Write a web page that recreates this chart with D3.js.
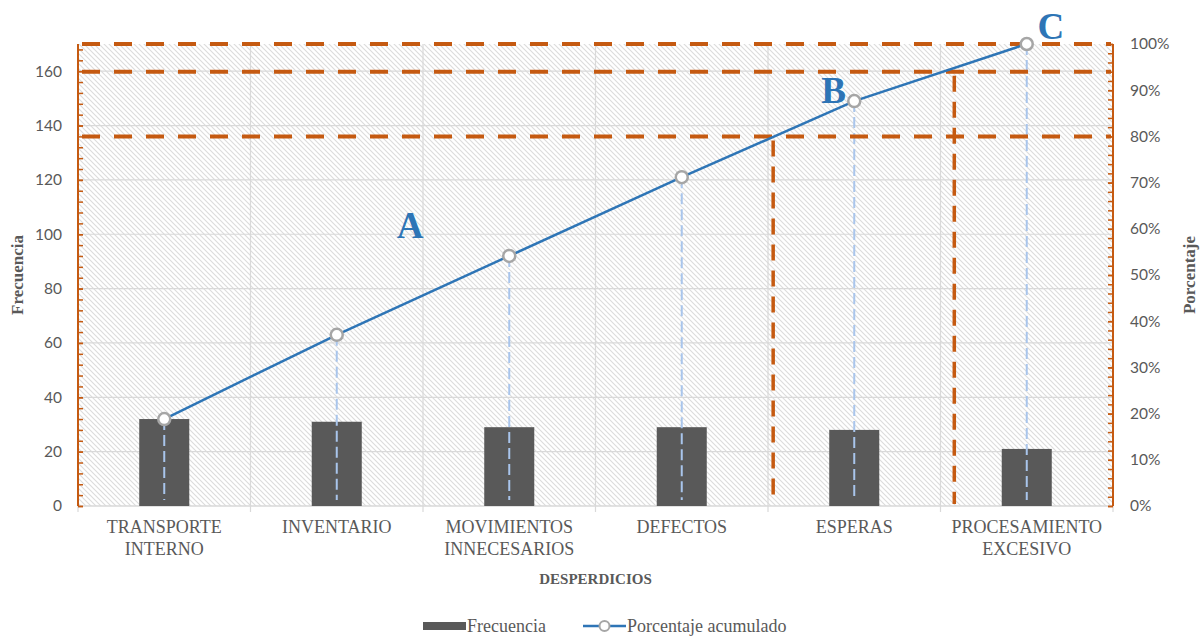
<!DOCTYPE html>
<html>
<head>
<meta charset="utf-8">
<script src="https://cdn.jsdelivr.net/npm/d3@7"></script>
<style>
  html, body { margin: 0; padding: 0; background: #ffffff; }
  svg { display: block; }
</style>
</head>
<body>
<svg id="chart" width="1201" height="636"></svg>
<script>
// Pareto de desperdicios
const categories = [
  ["TRANSPORTE", "INTERNO"],
  ["INVENTARIO"],
  ["MOVIMIENTOS", "INNECESARIOS"],
  ["DEFECTOS"],
  ["ESPERAS"],
  ["PROCESAMIENTO", "EXCESIVO"]
];
const frecuencia = [32, 31, 29, 29, 28, 21];
const leftTicks = [0, 20, 40, 60, 80, 100, 120, 140, 160];
const rightTicks = [0, 0.1, 0.2, 0.3, 0.4, 0.5, 0.6, 0.7, 0.8, 0.9, 1.0];
// Cortes de zona (porcentaje) y posición de los cortes verticales (en unidades de categoría)
const cutLevels = [0.80, 0.94, 1.00];
const cutPositions = [4.03, 5.08];
// Etiquetas de zona: índice de categoría (fraccional) y porcentaje
const zoneLabels = [
  { text: "A", at: 1.925, pct: 0.58 },
  { text: "B", at: 4.38, pct: 0.872 },
  { text: "C", at: 5.64, pct: 1.011 }
];

const total = d3.sum(frecuencia);
const acumulado = Array.from(d3.cumsum(frecuencia), v => v / total);

const svg = d3.select("#chart");
const pLeft = 78, pRight = 1113, pTop = 44, pBottom = 506;
const names = categories.map(c => c.join(" "));

const x = d3.scaleBand().domain(names).range([pLeft, pRight]).padding(0);
const yL = d3.scaleLinear().domain([0, 170]).range([pBottom, pTop]);
const yR = d3.scaleLinear().domain([0, 1]).range([pBottom, pTop]);
const xAt = u => pLeft + u * x.step();
const cx = i => x(names[i]) + x.bandwidth() / 2;

const orange = "#C55A11";
const blue = "#2E75B6";
const grey = "#595959";

// Hatched plot background
const defs = svg.append("defs");
const pat = defs.append("pattern")
  .attr("id", "hatch").attr("patternUnits", "userSpaceOnUse")
  .attr("width", 5).attr("height", 5);
pat.append("rect").attr("width", 5).attr("height", 5).attr("fill", "#ffffff");
pat.append("path")
  .attr("d", "M-1,-1 L6,6 M-1,4 L1,6 M4,-1 L6,1")
  .attr("stroke", "#dcdcdc").attr("stroke-width", 1.1);

svg.append("rect")
  .attr("x", pLeft).attr("y", pTop)
  .attr("width", pRight - pLeft).attr("height", pBottom - pTop)
  .attr("fill", "url(#hatch)");

// Gridlines
svg.append("g").selectAll("line").data(leftTicks.filter(d => d > 0)).join("line")
  .attr("x1", pLeft).attr("x2", pRight)
  .attr("y1", d => yL(d)).attr("y2", d => yL(d))
  .attr("stroke", "#d9d9d9").attr("stroke-width", 1.2);
const bounds = d3.range(1, names.length);
svg.append("g").selectAll("line").data(bounds).join("line")
  .attr("x1", d => xAt(d)).attr("x2", d => xAt(d))
  .attr("y1", pTop).attr("y2", pBottom + 6)
  .attr("stroke", "#d9d9d9").attr("stroke-width", 1.2);

// Category axis baseline
svg.append("line")
  .attr("x1", pLeft).attr("x2", pRight).attr("y1", pBottom).attr("y2", pBottom)
  .attr("stroke", "#d9d9d9").attr("stroke-width", 1.5);
svg.append("g").selectAll("line").data([0, names.length]).join("line")
  .attr("x1", d => xAt(d)).attr("x2", d => xAt(d))
  .attr("y1", pBottom).attr("y2", pBottom + 6)
  .attr("stroke", "#d9d9d9").attr("stroke-width", 1.2);

// Bars
const barW = x.bandwidth() * 0.29;
svg.append("g").selectAll("rect").data(frecuencia).join("rect")
  .attr("x", (d, i) => cx(i) - barW / 2)
  .attr("y", d => yL(d))
  .attr("width", barW)
  .attr("height", d => yL(0) - yL(d))
  .attr("fill", grey);

// Drop lines from the cumulative points
svg.append("g").selectAll("line").data(acumulado).join("line")
  .attr("x1", (d, i) => cx(i)).attr("x2", (d, i) => cx(i))
  .attr("y1", d => yR(d)).attr("y2", pBottom - 6)
  .attr("stroke", "#a9c5ec").attr("stroke-width", 2)
  .attr("stroke-dasharray", "11 5");

// Zone cut lines
svg.append("g").selectAll("line").data(cutLevels).join("line")
  .attr("x1", pLeft + 4).attr("x2", pRight - 2)
  .attr("y1", d => yR(d)).attr("y2", d => yR(d))
  .attr("stroke", orange).attr("stroke-width", 4)
  .attr("stroke-dasharray", "18 14");
svg.append("g").selectAll("line").data(cutPositions).join("line")
  .attr("x1", d => xAt(d)).attr("x2", d => xAt(d))
  .attr("y1", (d, i) => yR(cutLevels[i]) + 4).attr("y2", pBottom - 2)
  .attr("stroke", orange).attr("stroke-width", 3.5)
  .attr("stroke-dasharray", "16 10");

// Cumulative line
svg.append("path")
  .datum(acumulado)
  .attr("d", d3.line().x((d, i) => cx(i)).y(d => yR(d)))
  .attr("fill", "none").attr("stroke", blue).attr("stroke-width", 2.5);
svg.append("g").selectAll("circle").data(acumulado).join("circle")
  .attr("cx", (d, i) => cx(i)).attr("cy", d => yR(d))
  .attr("r", 6)
  .attr("fill", "#ffffff").attr("stroke", "#a6a6a6").attr("stroke-width", 2.5);

// Left axis
const axL = svg.append("g").attr("transform", `translate(${pLeft},0)`)
  .call(d3.axisLeft(yL).tickValues(leftTicks).tickSize(-5).tickPadding(16));
const axLm = svg.append("g").attr("transform", `translate(${pLeft},0)`)
  .call(d3.axisLeft(yL).tickValues(d3.range(0, 171, 4)).tickSize(-5).tickFormat(""));
// Right axis
const axR = svg.append("g").attr("transform", `translate(${pRight},0)`)
  .call(d3.axisRight(yR).tickValues(rightTicks).tickSize(-5).tickPadding(17)
    .tickFormat(d3.format(".0%")));
const axRm = svg.append("g").attr("transform", `translate(${pRight},0)`)
  .call(d3.axisRight(yR).tickValues(d3.range(0, 1.0001, 0.02)).tickSize(-5).tickFormat(""));

[axL, axLm, axR, axRm].forEach(g => {
  g.select(".domain").attr("stroke", orange).attr("stroke-width", 2)
    .attr("d", `M0,${pTop}V${pBottom}`);
  g.selectAll(".tick line").attr("stroke", orange).attr("stroke-width", 1.5);
  g.selectAll(".tick text")
    .attr("fill", grey)
    .style("font-family", "Lato, 'Liberation Sans', sans-serif")
    .style("font-size", "15.5px");
});

// Category labels
const catG = svg.append("g");
categories.forEach((lines, i) => {
  const t = catG.append("text")
    .attr("x", cx(i)).attr("y", pBottom + 27)
    .attr("text-anchor", "middle")
    .attr("fill", grey)
    .style("font-family", "'Liberation Serif', 'Times New Roman', serif")
    .style("font-size", "18px");
  lines.forEach((l, j) => {
    t.append("tspan").attr("x", cx(i)).attr("dy", j === 0 ? 0 : 22).text(l);
  });
});

// Axis titles
const titleStyle = s => s
  .attr("fill", grey)
  .attr("text-anchor", "middle")
  .style("font-family", "'Liberation Serif', 'Times New Roman', serif")
  .style("font-weight", "bold");
svg.append("text").call(titleStyle)
  .attr("x", (pLeft + pRight) / 2).attr("y", 584)
  .style("font-size", "15px")
  .text("DESPERDICIOS");
svg.append("text").call(titleStyle)
  .attr("transform", `translate(23,${(pTop + pBottom) / 2}) rotate(-90)`)
  .style("font-size", "17px")
  .text("Frecuencia");
svg.append("text").call(titleStyle)
  .attr("transform", `translate(1195,${(pTop + pBottom) / 2}) rotate(-90)`)
  .style("font-size", "17px")
  .text("Porcentaje");

// Zone labels
svg.append("g").selectAll("text").data(zoneLabels).join("text")
  .attr("x", d => xAt(d.at)).attr("y", d => yR(d.pct))
  .attr("text-anchor", "middle")
  .attr("fill", blue)
  .style("font-family", "'Liberation Serif', 'Times New Roman', serif")
  .style("font-weight", "bold")
  .style("font-size", "37px")
  .text(d => d.text);

// Legend
const lg = svg.append("g").attr("transform", "translate(0,626)");
lg.append("rect").attr("x", 423).attr("y", -4).attr("width", 43).attr("height", 8).attr("fill", grey);
lg.append("text").attr("x", 467).attr("y", 5.5)
  .attr("fill", grey)
  .style("font-family", "'Liberation Serif', 'Times New Roman', serif")
  .style("font-size", "18px")
  .text("Frecuencia");
lg.append("line").attr("x1", 583).attr("x2", 626).attr("y1", 0).attr("y2", 0)
  .attr("stroke", blue).attr("stroke-width", 2.5);
lg.append("circle").attr("cx", 604.5).attr("cy", 0).attr("r", 5)
  .attr("fill", "#ffffff").attr("stroke", "#a6a6a6").attr("stroke-width", 2);
lg.append("text").attr("x", 627).attr("y", 5.5)
  .attr("fill", grey)
  .style("font-family", "'Liberation Serif', 'Times New Roman', serif")
  .style("font-size", "18px")
  .text("Porcentaje acumulado");
</script>
</body>
</html>
